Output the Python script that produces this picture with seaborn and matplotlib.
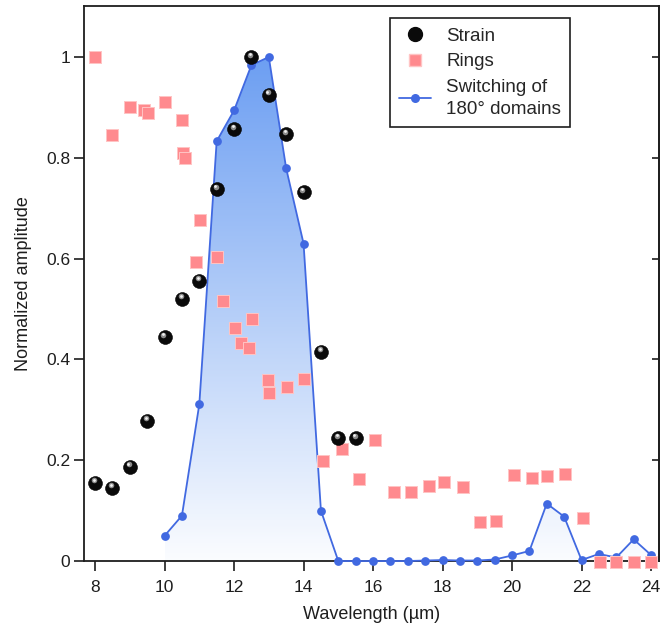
import matplotlib
matplotlib.use("Agg")
import matplotlib.pyplot as plt
import matplotlib.transforms as mtransforms
from matplotlib.colors import LinearSegmentedColormap
from matplotlib.lines import Line2D
import numpy as np
import pandas as pd
import seaborn as sns

# strain (black spheres)
strain_wl = [8, 8.5, 9, 9.5, 10, 10.5, 11, 11.5, 12, 12.5, 13, 13.5, 14, 14.5, 15, 15.5]
strain_amp = [0.155, 0.145, 0.187, 0.278, 0.444, 0.52, 0.556, 0.738, 0.857, 1.0,
              0.925, 0.847, 0.732, 0.415, 0.244, 0.244]

# rings (pink squares)
rings_wl = [8, 8.5, 9, 9.42, 9.52, 10.02, 10.49, 10.52, 10.6, 10.9, 11.03, 11.52, 11.67,
            12.03, 12.2, 12.44, 12.52, 12.97, 13.02, 13.52, 14.01, 14.56, 15.12, 15.6,
            16.07, 16.6, 17.09, 17.61, 18.03, 18.59, 19.08, 19.54, 20.07, 20.58, 21.02,
            21.52, 22.04, 22.52, 23.0, 23.52, 24.0]
rings_amp = [1.0, 0.846, 0.9, 0.895, 0.889, 0.91, 0.876, 0.81, 0.799, 0.593, 0.677, 0.603,
             0.516, 0.462, 0.432, 0.423, 0.481, 0.36, 0.334, 0.346, 0.362, 0.198, 0.222,
             0.163, 0.24, 0.136, 0.137, 0.149, 0.157, 0.147, 0.077, 0.079, 0.171, 0.164,
             0.169, 0.173, 0.086, -0.002, -0.002, -0.002, -0.002]

# switching of 180 deg domains (blue line)
switch_wl = [10, 10.5, 11, 11.5, 12, 12.5, 13, 13.5, 14, 14.5, 15, 15.5, 16, 16.5, 17,
             17.5, 18, 18.5, 19, 19.5, 20, 20.5, 21, 21.5, 22, 22.5, 23, 23.5, 24]
switch_amp = [0.05, 0.09, 0.311, 0.833, 0.894, 0.984, 1.0, 0.779, 0.63, 0.1, 0.0, 0.0,
              0.0, 0.0, 0.0, 0.001, 0.002, 0.001, 0.001, 0.003, 0.011, 0.02, 0.114,
              0.088, 0.002, 0.014, 0.007, 0.043, 0.012]

x_ticks = [8, 10, 12, 14, 16, 18, 20, 22, 24]
y_ticks = [0, 0.2, 0.4, 0.6, 0.8, 1.0]
y_ticklabels = ["0", "0.2", "0.4", "0.6", "0.8", "1"]

strain = pd.DataFrame({"wl": strain_wl, "amp": strain_amp})
rings = pd.DataFrame({"wl": rings_wl, "amp": rings_amp})
switch = pd.DataFrame({"wl": switch_wl, "amp": switch_amp})

sns.set_theme(style="ticks")
plt.rcParams["font.family"] = ["Liberation Sans", "DejaVu Sans"]

BLUE = "#4169e1"
PINK = "#ff8a8e"
INK = "#1e1e1e"

fig = plt.figure(figsize=(6.61, 6.32), dpi=100)
ax = fig.add_axes([0.127, 0.1123, 0.87, 0.878])

# gradient fill under the switching curve
fill = ax.fill_between(switch["wl"], switch["amp"], 0, color="none", lw=0, zorder=1)
cmap = LinearSegmentedColormap.from_list("bluefade", ["#ffffff", "#6d9ff2"])
grad = np.linspace(0, 1, 256).reshape(-1, 1)
img = ax.imshow(grad, cmap=cmap, origin="lower", aspect="auto",
                extent=[switch["wl"].min(), switch["wl"].max(), 0, 1.0],
                vmin=-0.03, vmax=1.0, zorder=1)
img.set_clip_path(fill.get_paths()[0], transform=ax.transData)
ax.set_xlim(7.68, 24.23)
ax.set_ylim(0, 1.101)

sns.lineplot(data=switch, x="wl", y="amp", ax=ax, color=BLUE, lw=1.3, marker="o",
             markersize=6.3, markeredgewidth=0, sort=False, zorder=3, clip_on=False)

sns.scatterplot(data=rings, x="wl", y="amp", ax=ax, marker="s", s=84, color=PINK,
                edgecolor="#ffc4c4", linewidth=0.7, zorder=4, clip_on=False)

sns.scatterplot(data=strain, x="wl", y="amp", ax=ax, marker="o", s=100, color="#0a0a0a",
                edgecolor="#000000", linewidth=0.4, zorder=5, clip_on=False)
# sphere highlight
hl = mtransforms.offset_copy(ax.transData, fig=fig, x=-0.8, y=1.8, units="points")
ax.scatter(strain["wl"], strain["amp"], marker="o", s=16, color="#8c8c8c",
           linewidths=0, zorder=6, transform=hl, clip_on=False)
hl2 = mtransforms.offset_copy(ax.transData, fig=fig, x=-1.0, y=2.1, units="points")
ax.scatter(strain["wl"], strain["amp"], marker="o", s=4, color="#f2f2f2",
           linewidths=0, zorder=7, transform=hl2, clip_on=False)

ax.set_xticks(x_ticks)
ax.set_yticks(y_ticks)
ax.set_yticklabels(y_ticklabels)
ax.tick_params(axis="both", labelsize=12.5, colors=INK, width=1.2, length=7)
ax.tick_params(axis="x", pad=6.5)
ax.tick_params(axis="y", pad=3)
ax.set_xlabel("Wavelength (µm)", fontsize=13, color=INK, labelpad=8)
ax.set_ylabel("Normalized amplitude", fontsize=13, color=INK, labelpad=10)

for s in ax.spines.values():
    s.set_visible(True)
    s.set_color(INK)
    s.set_linewidth(1.3)

# right ticks point inward
sec = ax.secondary_yaxis("right")
sec.set_yticks(y_ticks)
sec.tick_params(direction="in", length=5, width=1.2, labelright=False, colors=INK)
sec.spines["right"].set_linewidth(1.3)

handles = [
    Line2D([], [], ls="none", marker="o", markersize=10, color="#0a0a0a"),
    Line2D([], [], ls="none", marker="s", markersize=9, color=PINK, markeredgecolor="#ffc4c4"),
    Line2D([], [], color=BLUE, lw=1.3, marker="o", markersize=6.5, markeredgewidth=0),
]
leg = ax.legend(handles, ["Strain", "Rings", "Switching of\n180° domains"],
                loc="upper left", bbox_to_anchor=(0.532, 0.978), fontsize=13.5,
                frameon=True, fancybox=False, edgecolor=INK, framealpha=1,
                handlelength=1.7, borderpad=0.5, labelspacing=0.45, handletextpad=0.8,
                borderaxespad=0)
leg.get_frame().set_linewidth(1.2)
for t in leg.get_texts():
    t.set_linespacing(1.4)

fig.savefig("out.png", dpi=100)
